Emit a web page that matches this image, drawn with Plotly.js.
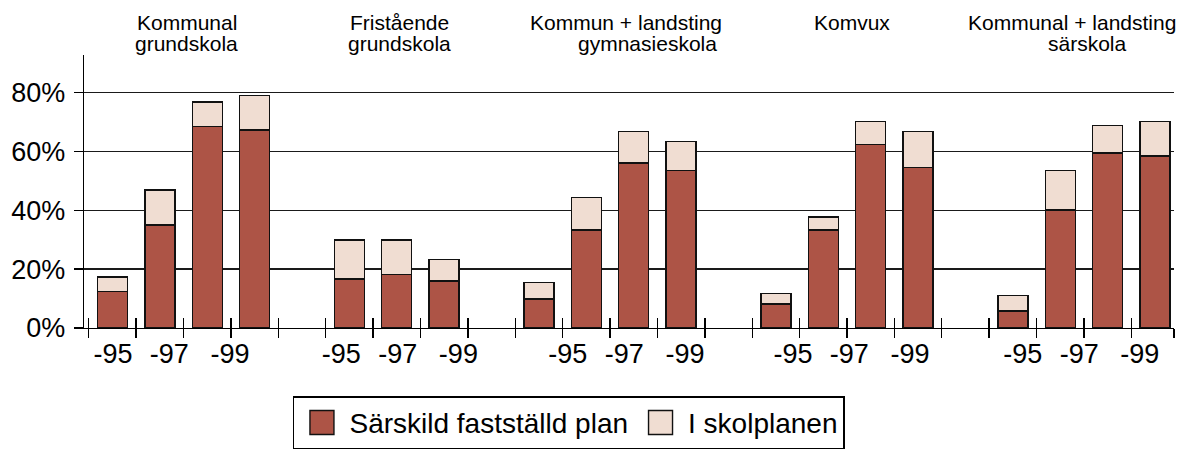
<!DOCTYPE html>
<html>
<head>
<meta charset="utf-8">
<script src="https://cdn.plot.ly/plotly-3.0.1.min.js"></script>
<style>
html, body { margin: 0; padding: 0; background: #ffffff; }
#chart { width: 1185px; height: 457px; }
</style>
</head>
<body>
<div id="chart"></div>
<script>
// ---------- data ----------
const groupTitles = [
  ["Kommunal", "grundskola"],
  ["Fristående", "grundskola"],
  ["Kommun + landsting", "gymnasieskola"],
  ["Komvux"],
  ["Kommunal + landsting", "särskola"]
];
const tickLabels = ["-95", "-97", "-99"];
const seriesNames = ["Särskild fastställd plan", "I skolplanen"];
const sarskildPlan = [
  [12.3, 35.0, 68.4, 67.3],
  [16.7, 18.1, 16.0],
  [9.9, 33.3, 56.0, 53.4],
  [8.2, 33.3, 62.3, 54.4],
  [5.8, 40.1, 59.4, 58.4]
];
const iSkolplanen = [
  [5.0, 11.8, 8.3, 11.7],
  [13.2, 11.8, 7.3],
  [5.5, 11.0, 10.7, 9.9],
  [3.6, 4.4, 7.8, 12.3],
  [5.2, 13.3, 9.3, 11.7]
];
const yTicks = [0, 20, 40, 60, 80];

// ---------- layout helpers (slot positions on a linear axis) ----------
const groupStart = [];
let slot = 0;
sarskildPlan.forEach(g => { groupStart.push(slot); slot += g.length + 1; });
const nSlots = slot - 1;
const xRange = [-0.1, nSlots - 0.1];

const xs = [];
sarskildPlan.forEach((g, gi) => g.forEach((v, j) => xs.push(groupStart[gi] + j + 0.5)));
const yA = sarskildPlan.flat();
const yB = iSkolplanen.flat();

const boundaries = [];
for (let k = 0; k <= nSlots; k++) boundaries.push(Math.min(Math.max(k, xRange[0]), xRange[1]));

const labelOffset = [0.51, 0.33, 1.11, 0.86, 0.71];
const labelStep = [0, 1.19, 2.47];
const labelVals = [], labelText = [];
groupStart.forEach((gs, gi) => tickLabels.forEach((t, i) => {
  labelVals.push(gs + labelOffset[gi] + labelStep[i]);
  labelText.push(t);
}));

const FONT = "Liberation Sans, Arial, Helvetica, sans-serif";
const DARK = "#ad5446";
const LIGHT = "#f0ddd2";

const barLine = { color: "#111111", width: 1.4 };
const traces = [
  { type: "bar", x: xs, y: yA, name: seriesNames[0], width: 0.633,
    marker: { color: DARK, line: barLine }, hoverinfo: "y+name" },
  { type: "bar", x: xs, y: yB, name: seriesNames[1], width: 0.633,
    marker: { color: LIGHT, line: barLine }, hoverinfo: "y+name" },
  // empty helpers so that the overlaying tick / label axes are drawn
  { type: "scatter", mode: "markers", x: [], y: [], xaxis: "x2", yaxis: "y",
    showlegend: false, hoverinfo: "skip" },
  { type: "scatter", mode: "markers", x: [], y: [], xaxis: "x3", yaxis: "y",
    showlegend: false, hoverinfo: "skip" }
];

const titleShift = [[3, 3], [3, 3], [16, 37], [5], [-12, 4]];
const annotations = [];
groupTitles.forEach((lines, gi) => {
  const n = sarskildPlan[gi].length;
  lines.forEach((t, li) => {
    annotations.push({
      xref: "x", yref: "paper", x: groupStart[gi] + n / 2, y: 1,
      xanchor: "center", yanchor: "middle",
      xshift: titleShift[gi][li], yshift: li === 0 ? 33 : 12,
      text: t, showarrow: false,
      font: { family: FONT, size: 21, color: "#000000" }
    });
  });
});

const layout = {
  width: 1185, height: 457,
  margin: { l: 84, r: 11, t: 55, b: 129, autoexpand: false },
  paper_bgcolor: "#ffffff", plot_bgcolor: "#ffffff",
  font: { family: FONT, color: "#000000" },
  barmode: "stack",
  showlegend: true,
  legend: {
    orientation: "h", x: 0.1917, y: -0.25, xanchor: "left", yanchor: "top",
    bordercolor: "#000000", borderwidth: 1.5, bgcolor: "#ffffff",
    traceorder: "normal", itemwidth: 45,
    font: { family: FONT, size: 28, color: "#000000" }
  },
  xaxis: {
    type: "linear", range: xRange, fixedrange: true,
    showline: true, linecolor: "#000000", linewidth: 1.4,
    ticks: "outside", ticklen: 9, tickwidth: 1.4, tickcolor: "#000000",
    tickmode: "array", tickvals: boundaries, showticklabels: false,
    showgrid: false, zeroline: false
  },
  xaxis2: {
    type: "linear", range: xRange, overlaying: "x", anchor: "y", side: "bottom", fixedrange: true,
    showline: false, ticks: "inside", ticklen: 10, tickwidth: 1.4, tickcolor: "#000000",
    tickmode: "array", tickvals: boundaries, showticklabels: false,
    showgrid: false, zeroline: false
  },
  xaxis3: {
    type: "linear", range: xRange, overlaying: "x", anchor: "y", side: "bottom", fixedrange: true,
    showline: false, ticks: "",
    tickmode: "array", tickvals: labelVals, ticktext: labelText,
    tickfont: { family: FONT, size: 27, color: "#000000" },
    ticklabelstandoff: 7,
    showgrid: false, zeroline: false
  },
  yaxis: {
    range: [0, 92.7], fixedrange: true,
    showline: true, linecolor: "#000000", linewidth: 1.4,
    ticks: "outside", ticklen: 9, tickwidth: 1.4, tickcolor: "#000000",
    tickmode: "array", tickvals: yTicks, ticktext: yTicks.map(v => v + "%"),
    tickfont: { family: FONT, size: 27, color: "#000000" },
    ticklabelstandoff: 3,
    showgrid: true, gridcolor: "#1a1a1a", gridwidth: 1.3,
    zeroline: false
  },
  annotations: annotations
};

Plotly.newPlot("chart", traces, layout, { displayModeBar: false, staticPlot: true }).then(() => {
  document.querySelectorAll("#chart .legend .legendpoints path").forEach(p => {
    p.setAttribute("d", "M12,12H-12V-12H12Z");
  });
});
</script>
</body>
</html>
